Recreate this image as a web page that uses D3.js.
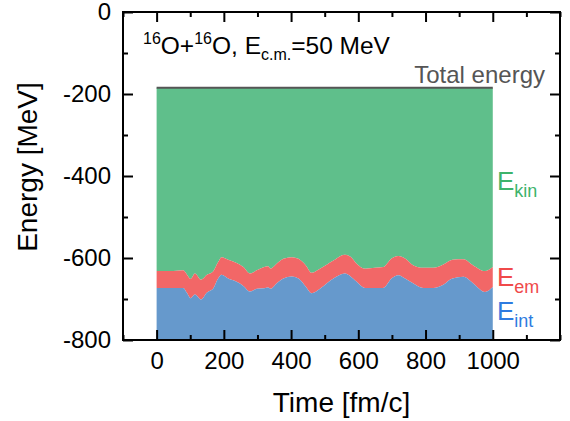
<html>
<head>
  <script src="https://d3js.org/d3.v7.min.js"></script>
  <style>
    body { margin: 0; background: #fff; }
    text { font-family: 'Liberation Sans', Arial, sans-serif; }
  </style>
</head>
<body>
  <div id="chart"></div>
  <script type="text/javascript">

    /*--- Data ---*/
    var time = [0, 40, 79, 90, 101, 114, 132, 150, 168, 183, 193, 213, 238, 258, 278, 298, 320, 332, 339, 357,
                377, 402, 422, 444, 461, 486, 526, 560, 577, 595, 620, 650, 674, 699, 719, 739, 764, 793, 823, 853,
                880, 913, 942, 977, 1000];
    // internal energy (top of the blue band)
    var eInt = [-673, -673, -673, -685, -698, -689, -701, -684, -675, -650, -641, -650, -658, -668, -682, -675, -674, -672, -675, -662,
                -650, -645, -650, -670, -686, -675, -650, -638, -645, -658, -673, -673, -673, -650, -642, -650, -662, -673, -673, -665,
                -650, -646, -662, -683, -671];
    // electromagnetic energy (thickness of the red band)
    var eEm = [41, 41, 43, 45, 47, 51, 48, 43, 42, 40, 43, 46, 46, 46, 44, 45, 52, 52, 49, 48,
               48, 47, 48, 52, 50, 49, 44, 46, 48, 44, 47, 49, 51, 49, 47, 49, 44, 49, 49, 49,
               46, 43, 44, 51, 49];
    var eTotal = -185;
    var xTicks = [0, 200, 400, 600, 800, 1000];
    var yTicks = [-800, -600, -400, -200, 0];

    /*--- Sizes ---*/
    var width = 570, height = 421,
      margin = {top: 12, right: 10, bottom: 81, left: 123},
      colGreen = "#5fbf8b", colRed = "#f26767", colBlue = "#6699cc";

    var svg = d3.select("#chart").append("svg")
      .attr("width", width)
      .attr("height", height);

    var x = d3.scaleLinear().domain([-100, 1200]).range([margin.left, width - margin.right]),
      y = d3.scaleLinear().domain([-800, 0]).range([height - margin.bottom, margin.top]);

    var rows = time.map(function(t, i) {
      return {t: t, int: eInt[i], em: eInt[i] + eEm[i]};
    });

    /*--- Stacked bands ---*/
    var curve = d3.curveMonotoneX;

    svg.append("path").datum(rows)
      .attr("fill", colGreen)
      .attr("d", d3.area().curve(curve)
        .x(function(d) { return x(d.t); })
        .y0(function(d) { return y(d.em); })
        .y1(y(eTotal)));

    svg.append("path").datum(rows)
      .attr("fill", colRed)
      .attr("d", d3.area().curve(curve)
        .x(function(d) { return x(d.t); })
        .y0(function(d) { return y(d.int); })
        .y1(function(d) { return y(d.em); }));

    svg.append("path").datum(rows)
      .attr("fill", colBlue)
      .attr("d", d3.area().curve(curve)
        .x(function(d) { return x(d.t); })
        .y0(y(-800))
        .y1(function(d) { return y(d.int); }));

    // total energy line
    svg.append("line")
      .attr("x1", x(time[0])).attr("x2", x(time[time.length - 1]))
      .attr("y1", y(eTotal)).attr("y2", y(eTotal))
      .attr("stroke", "#555").attr("stroke-width", 2);

    /*--- Axes, ticks pointing inward on all four sides ---*/
    var xMinor = d3.range(-100, 1201, 100).filter(function(v) { return xTicks.indexOf(v) < 0; }),
      yMinor = d3.range(-700, 0, 200);

    function styleAxis(g) {
      g.selectAll("line").attr("stroke", "#000").attr("stroke-width", 2);
      g.select(".domain").remove();
      g.selectAll("text").attr("font-size", 24).attr("fill", "#000")
        .attr("font-family", "'Liberation Sans', Arial, sans-serif");
    }
    var fmt = function(d) { return String(d); };

    svg.append("g").attr("transform", "translate(0," + y(-800) + ")")
      .call(d3.axisBottom(x).tickValues(xTicks).tickFormat(fmt).tickSize(-10).tickPadding(12)).call(styleAxis);
    svg.append("g").attr("transform", "translate(0," + y(-800) + ")")
      .call(d3.axisBottom(x).tickValues(xMinor).tickFormat("").tickSize(-5)).call(styleAxis);
    svg.append("g").attr("transform", "translate(0," + y(0) + ")")
      .call(d3.axisTop(x).tickValues(xTicks).tickFormat("").tickSize(-10)).call(styleAxis);
    svg.append("g").attr("transform", "translate(0," + y(0) + ")")
      .call(d3.axisTop(x).tickValues(xMinor).tickFormat("").tickSize(-5)).call(styleAxis);

    svg.append("g").attr("transform", "translate(" + x(-100) + ",0)")
      .call(d3.axisLeft(y).tickValues(yTicks).tickFormat(fmt).tickSize(-10).tickPadding(12)).call(styleAxis);
    svg.append("g").attr("transform", "translate(" + x(-100) + ",0)")
      .call(d3.axisLeft(y).tickValues(yMinor).tickFormat("").tickSize(-5)).call(styleAxis);
    svg.append("g").attr("transform", "translate(" + x(1200) + ",0)")
      .call(d3.axisRight(y).tickValues(yTicks).tickFormat("").tickSize(-10)).call(styleAxis);
    svg.append("g").attr("transform", "translate(" + x(1200) + ",0)")
      .call(d3.axisRight(y).tickValues(yMinor).tickFormat("").tickSize(-5)).call(styleAxis);

    // frame
    svg.append("rect")
      .attr("x", x(-100)).attr("y", y(0))
      .attr("width", x(1200) - x(-100)).attr("height", y(-800) - y(0))
      .attr("fill", "none").attr("stroke", "#000").attr("stroke-width", 2);

    /*--- Axis titles ---*/
    svg.append("text")
      .attr("x", (x(-100) + x(1200)) / 2).attr("y", 412)
      .attr("text-anchor", "middle").attr("font-size", 28)
      .text("Time [fm/c]");

    svg.append("text")
      .attr("transform", "translate(37,167) rotate(-90)")
      .attr("text-anchor", "middle").attr("font-size", 28)
      .text("Energy [MeV]");

    /*--- Annotations ---*/
    var title = svg.append("text").attr("x", 143).attr("y", 54).attr("font-size", 24.5);
    title.append("tspan").attr("font-size", 16).attr("dy", -10).text("16");
    title.append("tspan").attr("dy", 10).text("O+");
    title.append("tspan").attr("font-size", 16).attr("dy", -10).text("16");
    title.append("tspan").attr("dy", 10).text("O, E");
    title.append("tspan").attr("font-size", 16).attr("dy", 6).text("c.m.");
    title.append("tspan").attr("dy", -6).text("=50 MeV");

    svg.append("text")
      .attr("x", 545).attr("y", 83)
      .attr("text-anchor", "end").attr("font-size", 24).attr("fill", "#555")
      .text("Total energy");

    function energyLabel(ypos, sub, color) {
      var t = svg.append("text").attr("x", 497).attr("y", ypos)
        .attr("font-size", 26).attr("fill", color);
      t.append("tspan").text("E");
      t.append("tspan").attr("font-size", 18).attr("dy", 7).text(sub);
    }
    energyLabel(190, "kin", "#3db36b");
    energyLabel(286, "em", "#f04a4a");
    energyLabel(320, "int", "#2e7be0");

  </script>
</body>
</html>
